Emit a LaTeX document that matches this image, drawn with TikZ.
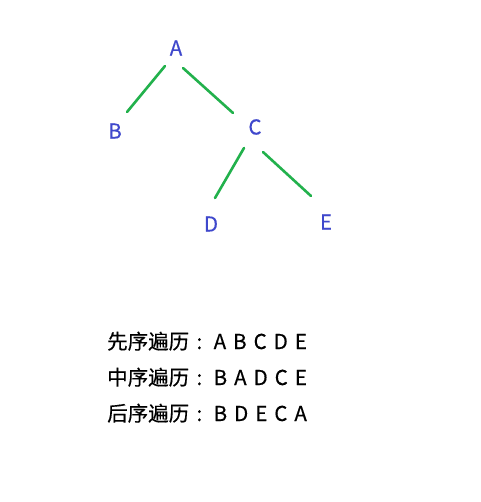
\documentclass[tikz,border=0pt]{standalone}
\usepackage{fontspec}
\setmainfont{Noto Sans CJK SC}[FakeBold=0.4]
\definecolor{paintblue}{RGB}{63,72,204}
\definecolor{paintgreen}{RGB}{34,177,76}
\newcommand{\travline}[2]{#1\makebox[1em][c]{:}\hspace{4pt}{\spaceskip=7pt\relax #2}}
\begin{document}
\begin{tikzpicture}[x=1pt,y=-1pt,
  treenode/.style={text=paintblue,font=\fontsize{20.5}{24}\selectfont,inner sep=0pt},
  edge/.style={draw=paintgreen,line width=2.6pt,line cap=round},
  trav/.style={anchor=base west,font=\fontsize{20.5}{24}\selectfont,inner sep=0pt}]
\useasboundingbox[fill=white] (0,0) rectangle (480,502);
\node[treenode] (A) at (176,48) {A};
\node[treenode] (B) at (115,131) {B};
\node[treenode] (C) at (255,127) {C};
\node[treenode] (D) at (211,224) {D};
\node[treenode] (E) at (326,222) {E};
\coordinate (ab1) at (165,66);  \coordinate (ab2) at (127,112);
\coordinate (ac1) at (183,68);  \coordinate (ac2) at (233,113);
\coordinate (cd1) at (244,148); \coordinate (cd2) at (215,198);
\coordinate (ce1) at (263,152); \coordinate (ce2) at (311,196);
\draw[edge] (ab1) -- (ab2);
\draw[edge] (ac1) -- (ac2);
\draw[edge] (cd1) -- (cd2);
\draw[edge] (ce1) -- (ce2);
\node[trav] (pre) at (107,349) {\travline{先序遍历}{A B C D E}};
\node[trav] (in) at (107,385) {\travline{中序遍历}{B A D C E}};
\node[trav] (post) at (107,421) {\travline{后序遍历}{B D E C A}};
\end{tikzpicture}
\end{document}
